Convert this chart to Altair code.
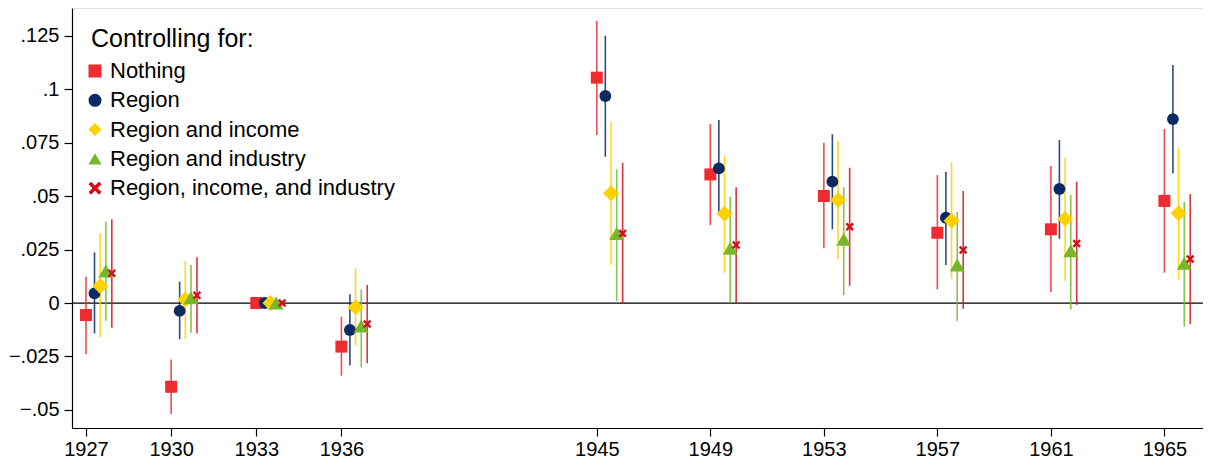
import altair as alt
import pandas as pd

years = [1927, 1930, 1933, 1936, 1945, 1949, 1953, 1957, 1961, 1965]
series = ["Nothing", "Region", "Region and income", "Region and industry",
          "Region, income, and industry"]

nothing_est = [-0.0056, -0.0392, 0.0, -0.0204, 0.1055, 0.0602, 0.0501, 0.0329, 0.0345, 0.0478]
nothing_lo = [-0.0239, -0.0520, None, -0.0340, 0.0787, 0.0365, 0.0256, 0.0064, 0.0051, 0.0142]
nothing_hi = [0.0123, -0.0264, None, -0.0064, 0.1320, 0.0838, 0.0750, 0.0599, 0.0641, 0.0815]

region_est = [0.0045, -0.0037, 0.0, -0.0126, 0.0969, 0.0630, 0.0568, 0.0399, 0.0534, 0.0861]
region_lo = [-0.0142, -0.0170, None, -0.0293, 0.0685, 0.0420, 0.0345, 0.0178, 0.0301, 0.0607]
region_hi = [0.0237, 0.0100, None, 0.0041, 0.1251, 0.0857, 0.0790, 0.0615, 0.0763, 0.1114]

income_est = [0.0080, 0.0017, 0.0, -0.0020, 0.0514, 0.0418, 0.0482, 0.0385, 0.0393, 0.0420]
income_lo = [-0.0160, -0.0170, None, -0.0200, 0.0178, 0.0142, 0.0205, 0.0111, 0.0103, 0.0111]
income_hi = [0.0326, 0.0197, None, 0.0162, 0.0847, 0.0691, 0.0760, 0.0659, 0.0679, 0.0729]

industry_est = [0.0150, 0.0025, 0.0, -0.0108, 0.0326, 0.0256, 0.0298, 0.0178, 0.0245, 0.0186]
industry_lo = [-0.0083, -0.0139, None, -0.0301, 0.0010, 0.0000, 0.0037, -0.0083, -0.0030, -0.0111]
industry_hi = [0.0380, 0.0178, None, 0.0064, 0.0626, 0.0498, 0.0542, 0.0426, 0.0506, 0.0474]

all_est = [0.0139, 0.0036, 0.0, -0.0098, 0.0326, 0.0272, 0.0357, 0.0248, 0.0279, 0.0206]
all_lo = [-0.0116, -0.0142, None, -0.0282, -0.0005, 0.0000, 0.0081, -0.0027, -0.0009, -0.0098]
all_hi = [0.0392, 0.0214, None, 0.0084, 0.0657, 0.0542, 0.0633, 0.0524, 0.0568, 0.0510]

y_ticks = [-0.05, -0.025, 0, 0.025, 0.05, 0.075, 0.1, 0.125]

# styling (not data)
offsets = [0.0, 0.3, 0.5, 0.7, 0.91]
colors = ["#ee2c2f", "#0b2a63", "#ffd100", "#76b82a", "#d2101a"]
x_path = "M-1,-0.6L-0.6,-1L0,-0.4L0.6,-1L1,-0.6L0.4,0L1,0.6L0.6,1L0,0.4L-0.6,1L-1,0.6L-0.4,0Z"
shapes = ["square", "circle", "diamond", "triangle-up", x_path]
sizes = [144, 140, 256, 225, 72]

est = [nothing_est, region_est, income_est, industry_est, all_est]
lo = [nothing_lo, region_lo, income_lo, industry_lo, all_lo]
hi = [nothing_hi, region_hi, income_hi, industry_hi, all_hi]

rows = []
for si, s in enumerate(series):
    for yi, yr in enumerate(years):
        rows.append({
            "series": s, "order": si, "year": yr,
            "xpos": yr + offsets[si], "msize": sizes[si],
            "est": est[si][yi], "lo": lo[si][yi], "hi": hi[si][yi],
        })
df = pd.DataFrame(rows)
ci = df.dropna(subset=["lo", "hi"])

FONT = "Liberation Sans"
x_scale = alt.Scale(domain=[1926.507, 1966.36], nice=False, zero=False)
y_scale = alt.Scale(domain=[-0.0585, 0.1381], nice=False, zero=False)

x_axis = alt.Axis(values=years, format="d", title=None, grid=False,
                  labelFontSize=20, labelFont=FONT, labelColor="black",
                  tickSize=8, tickColor="black", tickWidth=1.2,
                  domainColor="black", domainWidth=1.2, labelPadding=3)
y_axis = alt.Axis(values=y_ticks, title=None, grid=False,
                  labelExpr="datum.value == 0 ? '0' : replace(format(datum.value, '.3~f'), '0.', '.')",
                  labelFontSize=20, labelFont=FONT, labelColor="black",
                  tickSize=8, tickColor="black", tickWidth=1.2,
                  domainColor="black", domainWidth=1.2, labelPadding=5)

legend = alt.Legend(orient="none", legendX=19, legendY=19, title="Controlling for:",
                    titleFontSize=25, titleFont=FONT, titleFontWeight="normal",
                    titleColor="black", labelFontSize=22, labelFont=FONT,
                    labelColor="black", rowPadding=7.3, labelOffset=4,
                    symbolOffset=-7, labelLimit=0,
                    titlePadding=8, padding=0, symbolStrokeWidth=0,
                    symbolOpacity=1, symbolSize=170)

color_scale = alt.Scale(domain=series, range=colors)
shape_scale = alt.Scale(domain=series, range=shapes)

zero = alt.Chart(pd.DataFrame({"v": [0]})).mark_rule(color="black", strokeWidth=1.2).encode(
    y=alt.Y("v:Q", scale=y_scale, axis=y_axis)
)

rule_layers = []
for si, s in enumerate(series):
    rule_layers.append(
        alt.Chart(ci[ci["series"] == s]).mark_rule(strokeWidth=1.6, opacity=0.85, color=colors[si]).encode(
            x=alt.X("xpos:Q", scale=x_scale, axis=x_axis),
            y=alt.Y("lo:Q", scale=y_scale, axis=y_axis),
            y2="hi:Q",
        )
    )

points = alt.Chart(df).mark_point(filled=True, opacity=1, strokeWidth=0).encode(
    x=alt.X("xpos:Q", scale=x_scale, axis=x_axis),
    y=alt.Y("est:Q", scale=y_scale, axis=y_axis),
    color=alt.Color("series:N", scale=color_scale, legend=legend, sort=series),
    shape=alt.Shape("series:N", scale=shape_scale, legend=legend, sort=series),
    size=alt.Size("msize:Q", scale=None),
    order=alt.Order("order:Q"),
)

chart = alt.layer(zero, *rule_layers, points).properties(
    width=1131, height=420,
    autosize=alt.AutoSizeParams(type="none"),
    padding={"left": 64, "top": 0, "right": 0, "bottom": 30},
).configure_view(stroke=None).configure(background="white")

chart.save("out.html", embed_options={"renderer": "svg", "actions": False})
